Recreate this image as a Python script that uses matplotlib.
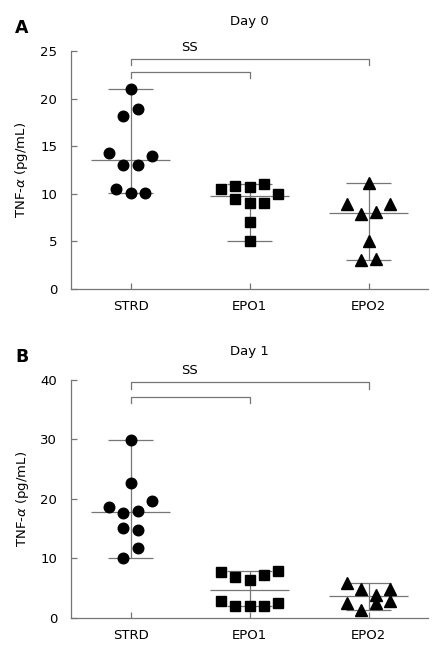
import numpy as np
import matplotlib
matplotlib.use("Agg")
import matplotlib.pyplot as plt

groups = ["STRD", "EPO1", "EPO2"]
markers = ["o", "s", "^"]

# Day 0 values (pg/mL)
day0_strd = [21.0, 18.9, 18.2, 14.3, 14.0, 13.0, 13.0, 10.5, 10.05, 10.05]
day0_epo1 = [10.5, 10.8, 10.7, 11.0, 10.0, 9.45, 9.0, 9.0, 7.0, 5.0]
day0_epo2 = [11.1, 8.9, 8.9, 7.9, 8.1, 5.0, 3.05, 3.15]
day0_median = [13.5, 9.75, 8.0]

# Day 1 values (pg/mL)
day1_strd = [29.9, 22.7, 19.6, 18.6, 17.6, 18.0, 15.15, 14.8, 11.8, 10.0]
day1_epo1 = [7.75, 6.9, 6.35, 7.2, 7.9, 2.86, 1.95, 1.95, 1.95, 2.5]
day1_epo2 = [5.9, 4.83, 3.82, 4.83, 2.42, 2.42, 2.86, 1.3]
day1_median = [17.8, 4.6, 3.7]

# horizontal spread of the points (scatter layout, in category units)
day0_jitter = [[0, 0.06, -0.06, -0.18, 0.18, -0.06, 0.06, -0.12, 0, 0.12],
               [-0.24, -0.12, 0, 0.12, 0.24, -0.12, 0, 0.12, 0, 0],
               [0, -0.18, 0.18, -0.06, 0.06, 0, -0.06, 0.06]]
day1_jitter = [[0, 0, 0.18, -0.18, -0.06, 0.06, -0.06, 0.06, 0.06, -0.06],
               [-0.24, -0.12, 0, 0.12, 0.24, -0.24, -0.12, 0, 0.12, 0.24],
               [-0.18, -0.06, 0.06, 0.18, -0.18, 0.06, 0.18, -0.06]]

GRAY = "#767676"
FS = 9.5


def drawPanel(ax, data, medians, jitter, ymax, yticks, title, letter, br_hi, br_lo, drop, ss_y):
    for i, vals in enumerate(data):
        vals = np.array(vals)
        # range line with caps and median line
        ax.vlines(i, vals.min(), vals.max(), color=GRAY, lw=0.9, zorder=1)
        ax.hlines([vals.min(), vals.max()], i - 0.19, i + 0.19, color=GRAY, lw=0.9, zorder=1)
        ax.hlines(medians[i], i - 0.33, i + 0.33, color=GRAY, lw=0.9, zorder=1)
        xs = i + np.array(jitter[i])
        ms = 7.6 if markers[i] == "o" else (7.0 if markers[i] == "s" else 8.2)
        ax.plot(xs, vals, linestyle="none", marker=markers[i], color="black",
                markersize=ms, zorder=3)

    # significance brackets
    ax.plot([0, 0, 2, 2], [br_hi - drop, br_hi, br_hi, br_hi - drop], color=GRAY, lw=0.9, clip_on=False)
    ax.plot([0, 0, 1, 1], [br_lo - drop, br_lo, br_lo, br_lo - drop], color=GRAY, lw=0.9, clip_on=False)
    ax.text(0.5, ss_y, "SS", ha="center", va="center", fontsize=FS, clip_on=False)

    ax.set_xlim(-0.5, 2.5)
    ax.set_ylim(0, ymax)
    ax.set_xticks(range(3))
    ax.set_xticklabels(groups, fontsize=FS)
    ax.set_yticks(yticks)
    ax.set_yticklabels([str(t) for t in yticks], fontsize=FS)
    for s in ["top", "right"]:
        ax.spines[s].set_visible(False)
    for s in ["left", "bottom"]:
        ax.spines[s].set_color(GRAY)
        ax.spines[s].set_linewidth(0.9)
    ax.tick_params(axis="y", direction="in", length=4.5, width=0.9, color=GRAY, pad=10)
    ax.tick_params(axis="x", direction="in", length=4.5, width=0.9, color=GRAY, pad=8)
    ax.set_ylabel(r"TNF-$\alpha$ (pg/mL)", fontsize=FS, labelpad=7)
    ax.text(0.5, 1 + 29 / 238, title, transform=ax.transAxes, ha="center", va="center", fontsize=FS)
    ax.text(-49 / 357, 1 + 23 / 238, letter, transform=ax.transAxes, ha="center", va="center",
            fontsize=12.5, fontweight="bold")


fig = plt.figure(figsize=(4.43, 6.52), dpi=100)
axA = fig.add_axes([71 / 443, 1 - 289 / 652, 357 / 443, 238 / 652])
axB = fig.add_axes([71 / 443, 1 - 617.7 / 652, 357 / 443, 237.7 / 652])

drawPanel(axA, [day0_strd, day0_epo1, day0_epo2], day0_median, day0_jitter,
          25, [0, 5, 10, 15, 20, 25], "Day 0", "A", 24.2, 22.8, 0.65, 25.4)
drawPanel(axB, [day1_strd, day1_epo1, day1_epo2], day1_median, day1_jitter,
          40, [0, 10, 20, 30, 40], "Day 1", "B", 39.6, 37.15, 1.1, 41.6)

fig.savefig("out.png", dpi=100)
